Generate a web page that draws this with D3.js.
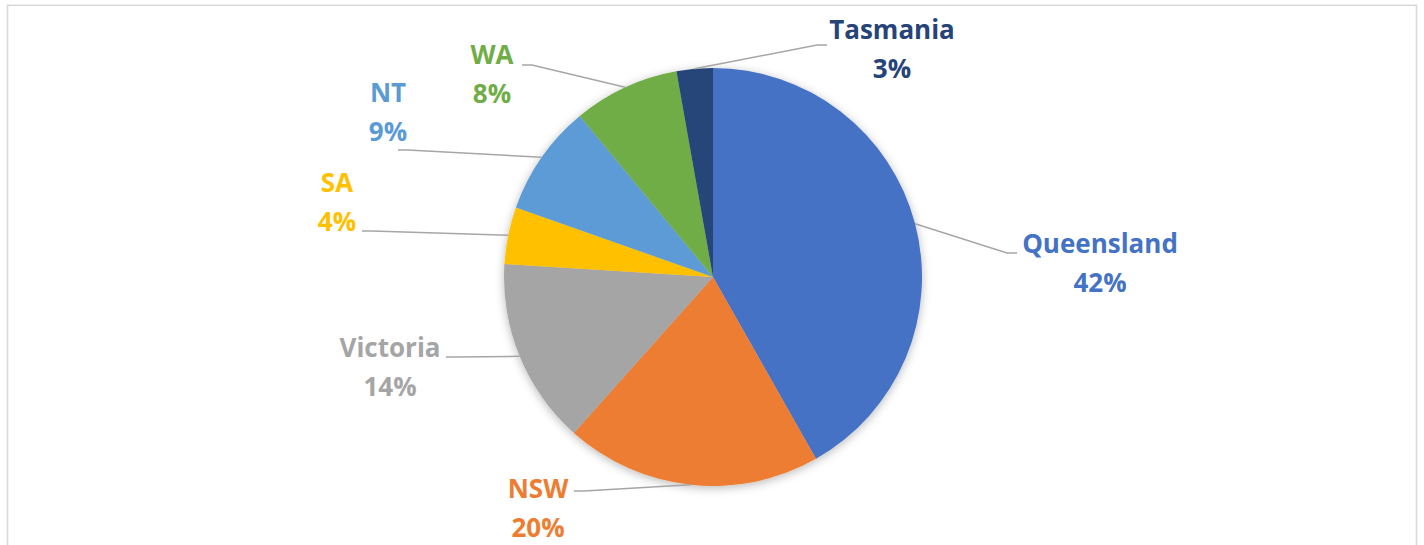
<!DOCTYPE html>
<html>
<head>
<meta charset="utf-8">
<script src="https://cdn.jsdelivr.net/npm/d3@7"></script>
<style>
  body { margin: 0; background: #fff; }
  svg { display: block; }
</style>
</head>
<body>
<svg id="chart"></svg>
<script>
// slice data, clockwise from 12 o'clock
var states = ["Queensland", "NSW", "Victoria", "SA", "NT", "WA", "Tasmania"];
var shares = [41.8, 19.8, 14.4, 4.4, 8.6, 8.2, 2.8];
var colours = ["#4472C4", "#ED7D31", "#A5A5A5", "#FFC000", "#5B9BD5", "#70AD47", "#264478"];

// label layout: text centre x, first baseline y, and where the leader line ends
var labelLayout = {
  "Queensland": {x: 1100, y: 253, lx: 1017, ly: 253},
  "NSW":        {x: 538,  y: 498, lx: 574,  ly: 491},
  "Victoria":   {x: 390,  y: 357, lx: 446,  ly: 357},
  "SA":         {x: 337,  y: 192, lx: 362,  ly: 231},
  "NT":         {x: 388,  y: 102, lx: 398,  ly: 150},
  "WA":         {x: 492,  y: 64,  lx: 522,  ly: 65},
  "Tasmania":   {x: 892,  y: 39,  lx: 827,  ly: 45}
};

var width = 1424, height = 545;
var cx = 713, cy = 277, radius = 209;
var pct_ = d3.format(".0%");

var svg = d3.select("#chart")
    .attr("width", width)
    .attr("height", height);

// soft shadow like the office pie effect
var defs = svg.append("defs");
var f = defs.append("filter")
    .attr("id", "shadow")
    .attr("x", "-20%").attr("y", "-20%")
    .attr("width", "140%").attr("height", "140%");
f.append("feDropShadow")
    .attr("dx", 0)
    .attr("dy", 2)
    .attr("stdDeviation", 5)
    .attr("flood-color", "#000")
    .attr("flood-opacity", 0.28);

// chart frame
svg.append("rect")
    .attr("x", 7.5)
    .attr("y", 5.3)
    .attr("width", 1409)
    .attr("height", 700)
    .attr("fill", "none")
    .attr("stroke", "#d9d9d9")
    .attr("stroke-width", 1.6);

var data = states.map(function(s, i){
  return {name: s, value: shares[i], color: colours[i]};
});

var pie = d3.pie()
    .sort(null)
    .value(function(d){ return d.value; });

var arc = d3.arc()
    .innerRadius(0)
    .outerRadius(radius);

var arcs = pie(data);
var total = d3.sum(shares);

var g = svg.append("g")
    .attr("transform", "translate(" + cx + "," + cy + ")");

g.append("g")
    .attr("filter", "url(#shadow)")
  .selectAll("path")
    .data(arcs)
  .enter().append("path")
    .attr("d", arc)
    .attr("fill", function(d){ return d.data.color; });

// leader lines from slice edge to label
var lines = svg.append("g");
arcs.forEach(function(d){
  var lay = labelLayout[d.data.name];
  var a = (d.startAngle + d.endAngle) / 2;
  var ex = cx + radius * Math.sin(a);
  var ey = cy - radius * Math.cos(a);
  var dir = ex > lay.lx ? 1 : -1;
  var pts = [[ex, ey], [lay.lx + dir * 10, lay.ly], [lay.lx, lay.ly]];
  lines.append("path")
      .attr("d", d3.line()(pts))
      .attr("fill", "none")
      .attr("stroke", "#a6a6a6")
      .attr("stroke-width", 1.5);
});

// labels
var labels = svg.append("g")
    .attr("font-family", "'Open Sans', 'DejaVu Sans', sans-serif")
    .attr("font-weight", "bold")
    .attr("font-size", "26px")
    .attr("text-anchor", "middle");

arcs.forEach(function(d){
  var lay = labelLayout[d.data.name];
  labels.append("text")
      .attr("x", lay.x)
      .attr("y", lay.y)
      .attr("fill", d.data.color)
      .text(d.data.name);
  labels.append("text")
      .attr("x", lay.x)
      .attr("y", lay.y + 39)
      .attr("fill", d.data.color)
      .text(pct_(d.data.value / total));
});
</script>
</body>
</html>
